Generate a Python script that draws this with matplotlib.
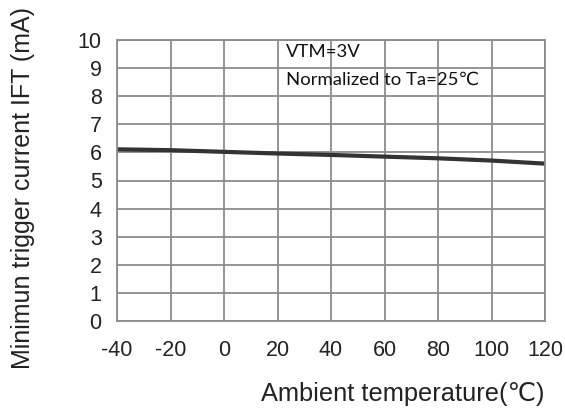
import matplotlib
matplotlib.use("Agg")
import matplotlib.pyplot as plt

temps = [-40, -20, 0, 20, 40, 60, 80, 100, 120]
ift = [6.11, 6.08, 6.02, 5.96, 5.91, 5.85, 5.79, 5.71, 5.60]
xticks = [-40, -20, 0, 20, 40, 60, 80, 100, 120]
yticks = list(range(0, 11))

plt.rcParams['font.family'] = ['Liberation Sans', 'DejaVu Sans']
plt.rcParams['axes.unicode_minus'] = False

fig = plt.figure(figsize=(5.65, 4.12), dpi=100)
ax = fig.add_axes([117/565, 1-321/412, (545-117)/565, (321-40)/412])

ax.plot(temps, ift, color='#333333', lw=3.0, solid_capstyle='butt')
ax.set_xlim(-40, 120)
ax.set_ylim(0, 10)
ax.set_xticks(xticks)
ax.set_yticks(yticks)
ax.grid(True, color='#8c8c8c', lw=1.3)
ax.set_axisbelow(True)
for s in ax.spines.values():
    s.set_color('#8c8c8c')
    s.set_linewidth(1.3)
ax.tick_params(axis='both', length=0, labelsize=15.5, colors='#222222')
ax.tick_params(axis='y', pad=11)
ax.tick_params(axis='x', pad=13.5)

fig.text(403/565, 1-394/412, 'Ambient temperature(\u2103)', fontsize=18.3,
         ha='center', va='center', color='#222222')
fig.text(23/565, 1-188/412, 'Minimun trigger current IFT (mA)', fontsize=18,
         ha='center', va='center', rotation=90, color='#222222')

txt_kw = dict(fontsize=13.3, family=['Lato', 'DejaVu Sans'], color='#111111', va='center', ha='left')
ax.text((286-117)/428, 1-(52-40)/281, 'VTM=3V', transform=ax.transAxes, **txt_kw)
ax.text((286-117)/428, 1-(80-40)/281, 'Normalized to Ta=25\u2103', transform=ax.transAxes, **txt_kw)

fig.savefig('out.png', dpi=100)
